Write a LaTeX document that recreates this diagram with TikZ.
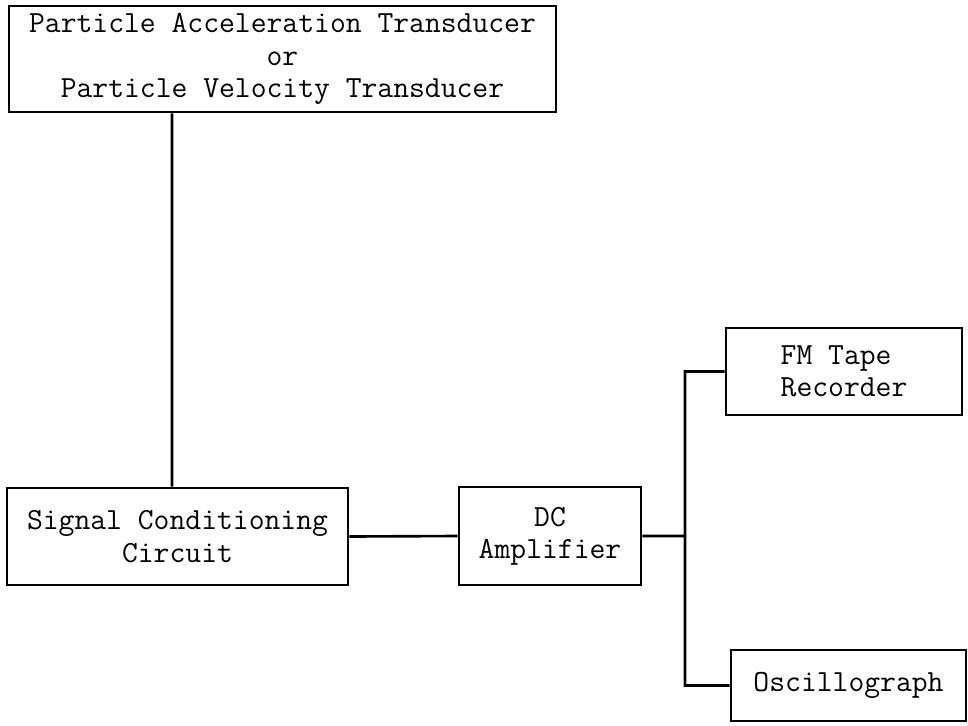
\documentclass[tikz,border=0pt]{standalone}
\usepackage{fontspec}
\begin{document}
\begin{tikzpicture}[x=0.02cm,y=-0.02cm,line width=1.5pt,
    every node/.style={font=\ttfamily\fontsize{17.5}{18.4}\selectfont, align=center, inner sep=0pt}]
                \useasboundingbox (0,0) rectangle (968,725);

                \node (trans) at (282.5,59) [minimum width=10.94cm,minimum height=2.12cm,draw] {Particle Acceleration Transducer\\or\\Particle Velocity Transducer};
                \node (scc) at (177.5,536.5) [minimum width=6.82cm,minimum height=1.94cm,draw] {Signal Conditioning\\Circuit};
                \node (amp) at (550,536) [minimum width=3.64cm,minimum height=1.96cm,draw] {DC\\Amplifier};
                \node (fm) at (844,371.5) [minimum width=4.72cm,minimum height=1.74cm,draw,align=left] {FM Tape\\Recorder};
                \node (osc) at (848.5,685.5) [minimum width=4.70cm,minimum height=1.42cm,draw] {Oscillograph};

                % \node (origin) [coordinate] at (0,0) {};
                \coordinate (tap) at (172,0);
                \coordinate (bus) at (685,0);
                \path [draw]
                    (tap |- trans.south) -- (tap |- scc.north)
                    (scc.east) -- (amp.west)
                    (amp.east) -- (amp.east -| bus)
                    (fm.west) -- (fm.west -| bus) -- (osc.west -| bus) -- (osc.west)
                ;
            \end{tikzpicture}
\end{document}
